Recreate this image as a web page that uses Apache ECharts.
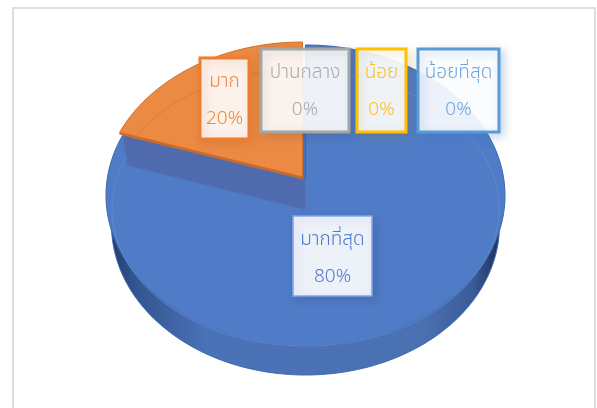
<!DOCTYPE html>
<html>
<head>
<meta charset="utf-8">
<title>pie</title>
<script src="https://cdn.jsdelivr.net/npm/echarts@6/dist/echarts.min.js"></script>
<style>
  html, body { margin: 0; padding: 0; background: #fff; }
  #chart { width: 597px; height: 408px; }
</style>
</head>
<body>
<div id="chart"></div>
<script>
// chart data
const categories = ['มากที่สุด', 'มาก', 'ปานกลาง', 'น้อย', 'น้อยที่สุด'];
const values = [80, 20, 0, 0, 0];

// look of each slice and its label box
const sliceColors = ['#4f7bc7', '#ea8a43', '#a5a5a5', '#ffc000', '#5b9bd5'];
const edgeColors = ['#3d66ad', '#d2702a', '#a5a5a5', '#ffc000', '#5b9bd5'];
const innerColors = ['#5f88cf', '#e07b30', '#a5a5a5', '#ffc000', '#5b9bd5'];
const boxColors = ['#86a5e0', '#ed7d31', '#a5a5a5', '#ffc000', '#5b9bd5'];
const textColors = ['#4f79cc', '#ee8540', '#aaaaaa', '#ffc01e', '#6ea6de'];
const shadowColors = ['rgba(40,60,110,0.22)', 'rgba(190,90,20,0.25)', 'rgba(60,60,60,0.18)', 'rgba(150,110,0,0.2)', 'rgba(60,120,190,0.3)'];
const boxBorders = [1.5, 3, 3, 3, 3];
const boxes = [
  [293, 216, 79, 80],
  [200, 58, 49, 81],
  [261, 49, 88, 83],
  [357, 49, 49, 83],
  [418, 49, 81, 83]
];
// slices are pulled out a little from the centre
const explode = [[0, 0], [-3, -3], [0, 0], [0, 0], [0, 0]];

// projected discs: centre, radii and perspective shift
const TOP = { cx: 305.5, cy: 195.5, rx: 199.5, ry: 150.5, k: -0.103 };
const BOTTOM = { cx: 305.5, cy: 225, rx: 194, ry: 150, k: -0.1 };
const INNER = { cx: 305.5, cy: 209, rx: 193.5, ry: 137, k: -0.21 };

function proj(e, a, d) {
  const u = Math.sin(a), v = -Math.cos(a);
  const w = 1 + e.k * v;
  return [
    e.cx + e.rx * u * Math.sqrt(1 - e.k * e.k) / w + d[0],
    e.cy + e.ry * (v + e.k) / w + d[1]
  ];
}

function arc(e, a0, a1, d) {
  const pts = [];
  const n = Math.max(2, Math.ceil((a1 - a0) * 40));
  for (let i = 0; i <= n; i++) pts.push(proj(e, a0 + (a1 - a0) * i / n, d));
  return pts;
}

function renderSlice(params, api) {
  const i = params.dataIndex;
  const total = values.reduce((s, x) => s + x, 0);
  const before = values.slice(0, i).reduce((s, x) => s + x, 0);
  const a0 = before / total * Math.PI * 2;
  const a1 = (before + api.value(1)) / total * Math.PI * 2;
  const d = explode[i];
  const children = [];

  if (a1 > a0) {
    const apex = [TOP.cx + d[0], TOP.cy + TOP.ry * TOP.k + d[1]];
    if (i === 0) {
      // outer wall, only the blue slice reaches the front
      children.push({
        type: 'polygon',
        shape: { points: arc(BOTTOM, 0, Math.PI * 2, [0, 0]) },
        style: {
          fill: new echarts.graphic.LinearGradient(0, 0, 1, 0, [
            { offset: 0, color: '#223c6c' },
            { offset: 0.06, color: '#33558f' },
            { offset: 0.25, color: '#4a72b7' },
            { offset: 0.8, color: '#4a71b2' },
            { offset: 0.93, color: '#3a5c98' },
            { offset: 1, color: '#1c305c' }
          ]),
          stroke: '#4069b0', lineWidth: 1
        }
      });
    }
    children.push({
      type: 'polygon',
      shape: { points: [apex].concat(arc(TOP, a0, a1, d)) },
      style: { fill: sliceColors[i], stroke: edgeColors[i], lineWidth: 1 }
    });
    children.push({
      type: 'polyline',
      shape: { points: arc(INNER, a0, a1, d) },
      style: { fill: null, stroke: innerColors[i], lineWidth: 1 }
    });
    if (i === 0) {
      // cut face of the blue slice, seen through the gap
      const c1 = proj(TOP, a1, d), b1 = proj(BOTTOM, a1, d);
      const b0 = [BOTTOM.cx, BOTTOM.cy + BOTTOM.ry * BOTTOM.k];
      children.push({
        type: 'polygon',
        shape: { points: [c1, apex, b0, b1] },
        style: { fill: '#4f6bae', stroke: '#4f78c0', lineWidth: 1 }
      });
    } else {
      // thin edge of the lifted slice
      const c0 = proj(TOP, a0, d);
      children.push({
        type: 'polygon',
        shape: { points: [c0, apex, [apex[0], apex[1] + 2], [c0[0], c0[1] + 2]] },
        style: { fill: '#d06a22', stroke: '#d06a22', lineWidth: 0.3 }
      });
    }
  }

  // label box
  const b = boxes[i];
  children.push({
    type: 'rect',
    shape: { x: b[0], y: b[1], width: b[2], height: b[3] },
    style: {
      fill: 'rgba(255,255,255,0.9)',
      stroke: boxColors[i],
      lineWidth: boxBorders[i],
      shadowBlur: 9,
      shadowOffsetX: 3,
      shadowOffsetY: 3,
      shadowColor: shadowColors[i]
    }
  });
  [api.value(0), api.value(1) + '%'].forEach(function (t, n) {
    children.push({
      type: 'text',
      style: {
        x: b[0] + b[2] / 2,
        y: b[1] + 25 + n * 37,
        text: String(t),
        align: 'center',
        verticalAlign: 'middle',
        fill: textColors[i],
        fontSize: 19,
        fontWeight: 300,
        fontFamily: '"Noto Sans Thai", "Liberation Sans", "Noto Sans", sans-serif'
      }
    });
  });
  return { type: 'group', children: children };
}

const myChart = echarts.init(document.getElementById('chart'));
myChart.setOption({
  animation: false,
  graphic: [{
    type: 'rect',
    z: -1,
    shape: { x: 13, y: 8, width: 582, height: 420 },
    style: { fill: '#fff', stroke: '#dedede', lineWidth: 2 }
  }],
  dataset: { source: categories.map((c, i) => [c, values[i]]) },
  series: [{
    type: 'custom',
    coordinateSystem: 'none',
    renderItem: renderSlice,
    encode: { itemName: 0, value: 1 }
  }]
});
window.addEventListener('resize', myChart.resize);
</script>
</body>
</html>
